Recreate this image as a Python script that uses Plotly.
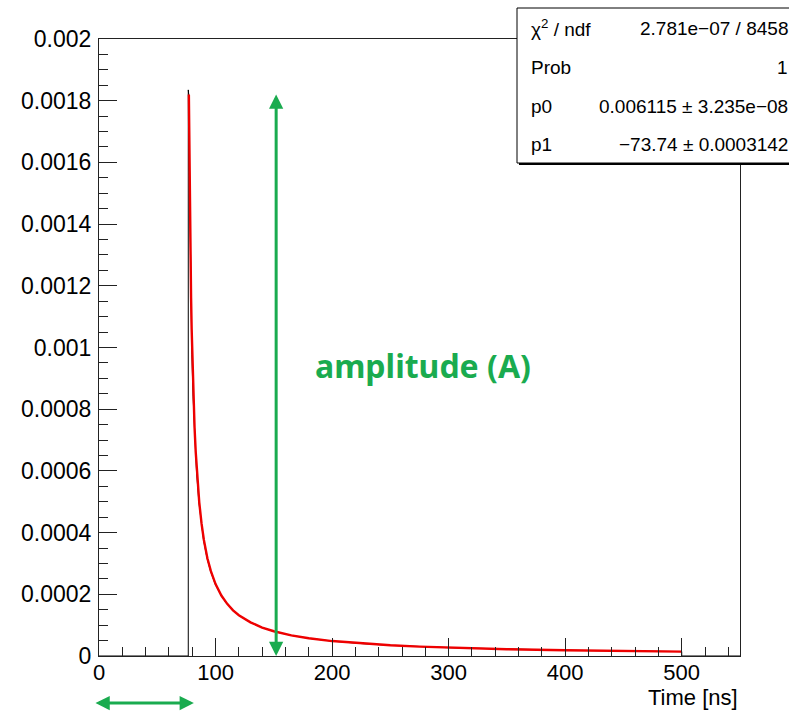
import plotly.graph_objects as go

# ---------------- data ----------------
fit_x = [77.1, 77.5, 78.0, 78.5, 79.0, 79.5, 80.0, 81.0, 82.0, 83.0, 84.0, 86.0, 88.0, 90.0,
         93.0, 96.0, 100.0, 105.0, 110.0, 115.0, 120.0, 130.0, 140.0, 150.0, 165.0, 180.0,
         200.0, 225.0, 250.0, 275.0, 300.0, 350.0, 400.0, 450.0, 500.0]
fit_y = [0.001820, 0.001626, 0.001435, 0.001285, 0.001163, 0.001061, 0.000977, 0.000842,
         0.000740, 0.000661, 0.000596, 0.000499, 0.000429, 0.000376, 0.000317, 0.000275,
         0.000233, 0.000196, 0.000169, 0.000148, 0.000132, 0.000109, 0.0000923, 0.0000802,
         0.0000670, 0.0000575, 0.0000484, 0.0000404, 0.0000347, 0.0000303, 0.0000270,
         0.0000221, 0.0000187, 0.0000163, 0.0000143]

hist_x = [0, 76.6, 76.6, 77.0, 77.4, 77.9, 78.4, 78.9, 79.7, 80.7, 81.7, 83.7, 85.7, 87.7,
          89.7, 92.7, 95.7, 99.7, 104.7, 109.7, 119.7, 129.7, 139.7, 149.7, 164.7, 179.7,
          199.7, 224.7, 249.7, 299.7, 349.7, 399.7, 449.7, 500, 500, 550]
hist_y = [0, 0, 0.001835, 0.00182, 0.001626, 0.001435, 0.001285, 0.001163, 0.000977,
          0.000842, 0.00074, 0.000596, 0.000499, 0.000429, 0.000376, 0.000317, 0.000275,
          0.000233, 0.000196, 0.000169, 0.000132, 0.000109, 0.0000923, 0.0000802, 0.000067,
          0.0000575, 0.0000484, 0.0000404, 0.0000347, 0.000027, 0.0000221, 0.0000187,
          0.0000163, 0.0000143, 0, 0]

x_tickvals = [0, 100, 200, 300, 400, 500]
x_ticktext = ["0", "100", "200", "300", "400", "500"]
y_tickvals = [0, 0.0002, 0.0004, 0.0006, 0.0008, 0.001, 0.0012, 0.0014, 0.0016, 0.0018, 0.002]
y_ticktext = ["0", "0.0002", "0.0004", "0.0006", "0.0008", "0.001", "0.0012", "0.0014",
              "0.0016", "0.0018", "0.002"]

stat_names = ["χ<sup>2</sup> / ndf", "Prob", "p0", "p1"]
stat_values = ["2.781e−07 / 8458", "1", "0.006115 ± 3.235e−08", "−73.74 ± 0.0003142"]

x_title = "Time [ns]"
amp_label = "amplitude (A)"
amp_arrow_x = 152
amp_arrow_top = 0.001825
window_start = -4.3
window_end = 81.4

# ---------------- layout constants ----------------
W, H = 789, 711
L, R, T, B = 99, 49, 39, 55
PW, PH = W - L - R, H - T - B
GREEN = "#1aab4f"
FONT = "Liberation Sans, Arial, sans-serif"


def px_x(p):
    return (p - L) / PW


def px_y(p):
    return (H - B - p) / PH


fig = go.Figure()
fig.add_trace(go.Scatter(x=hist_x, y=hist_y, mode="lines", line=dict(color="black", width=1),
                         hoverinfo="skip", showlegend=False))
fig.add_trace(go.Scatter(x=fit_x, y=fit_y, mode="lines", line=dict(color="#ee0000", width=2.4),
                         hoverinfo="skip", showlegend=False))

axis_common = dict(showline=True, linecolor="#222", linewidth=1, mirror=True, showgrid=False,
                   zeroline=False, ticks="inside", tickcolor="#222", tickwidth=1)

fig.update_xaxes(range=[0, 550], tickvals=x_tickvals, ticktext=x_ticktext, ticklen=18,
                 tickfont=dict(family=FONT, size=22, color="black"),
                 minor=dict(ticks="inside", ticklen=9, dtick=20, tick0=0, tickcolor="#222", showgrid=False),
                 ticklabelstandoff=-3, **axis_common)
fig.update_yaxes(range=[0, 0.002], tickvals=y_tickvals, ticktext=y_ticktext, ticklen=18,
                 tickfont=dict(family=FONT, size=23, color="black"),
                 minor=dict(ticks="inside", ticklen=9, dtick=0.00005, tick0=0, tickcolor="#222", showgrid=False),
                 ticklabelstandoff=2, **axis_common)

shapes = []
# stats box shadow + box
shapes.append(dict(type="rect", xref="paper", yref="paper", x0=px_x(519), x1=px_x(805),
                   y0=px_y(165), y1=px_y(10), fillcolor="black", line=dict(width=0), layer="above"))
shapes.append(dict(type="rect", xref="paper", yref="paper", x0=px_x(517), x1=px_x(805),
                   y0=px_y(163), y1=px_y(8), fillcolor="white", line=dict(color="black", width=1),
                   layer="above"))

annotations = []
row_y = [28, 68, 106, 145]
for name, val, ry in zip(stat_names, stat_values, row_y):
    annotations.append(dict(xref="paper", yref="paper", x=px_x(529), y=px_y(ry), text=name,
                            showarrow=False, xanchor="left", yanchor="middle",
                            font=dict(family=FONT, size=19, color="black")))
    annotations.append(dict(xref="paper", yref="paper", x=px_x(790), y=px_y(ry), text=val,
                            showarrow=False, xanchor="right", yanchor="middle",
                            font=dict(family=FONT, size=19, color="black")))

annotations.append(dict(xref="paper", yref="paper", x=1.0, y=px_y(697), text=x_title,
                        showarrow=False, xanchor="right", yanchor="middle",
                        font=dict(family=FONT, size=22, color="black")))

# amplitude arrow
annotations.append(dict(xref="x", yref="y", x=amp_arrow_x, y=0, axref="x", ayref="y",
                        ax=amp_arrow_x, ay=amp_arrow_top, text="", showarrow=True,
                        arrowside="end+start", arrowhead=2, startarrowhead=2,
                        arrowsize=0.95, startarrowsize=0.95, arrowwidth=3, arrowcolor=GREEN,
                        standoff=0, startstandoff=0))
# window arrow below axis
annotations.append(dict(xref="x", yref="paper", x=window_end, y=px_y(703), axref="x", ayref="pixel",
                        ax=window_start, ay=0, text="", showarrow=True,
                        arrowside="end+start", arrowhead=2, startarrowhead=2,
                        arrowsize=0.95, startarrowsize=0.95, arrowwidth=3, arrowcolor=GREEN,
                        standoff=0, startstandoff=0))
annotations.append(dict(xref="x", yref="y", x=278, y=0.000943, text="<b>" + amp_label + "</b>",
                        showarrow=False, xanchor="center", yanchor="middle",
                        font=dict(family="Noto Sans, sans-serif", size=32, color=GREEN)))

fig.update_layout(width=W, height=H, margin=dict(l=L, r=R, t=T, b=B, autoexpand=False),
                  paper_bgcolor="white", plot_bgcolor="white", shapes=shapes,
                  annotations=annotations, showlegend=False)

fig.write_html("out.html")
